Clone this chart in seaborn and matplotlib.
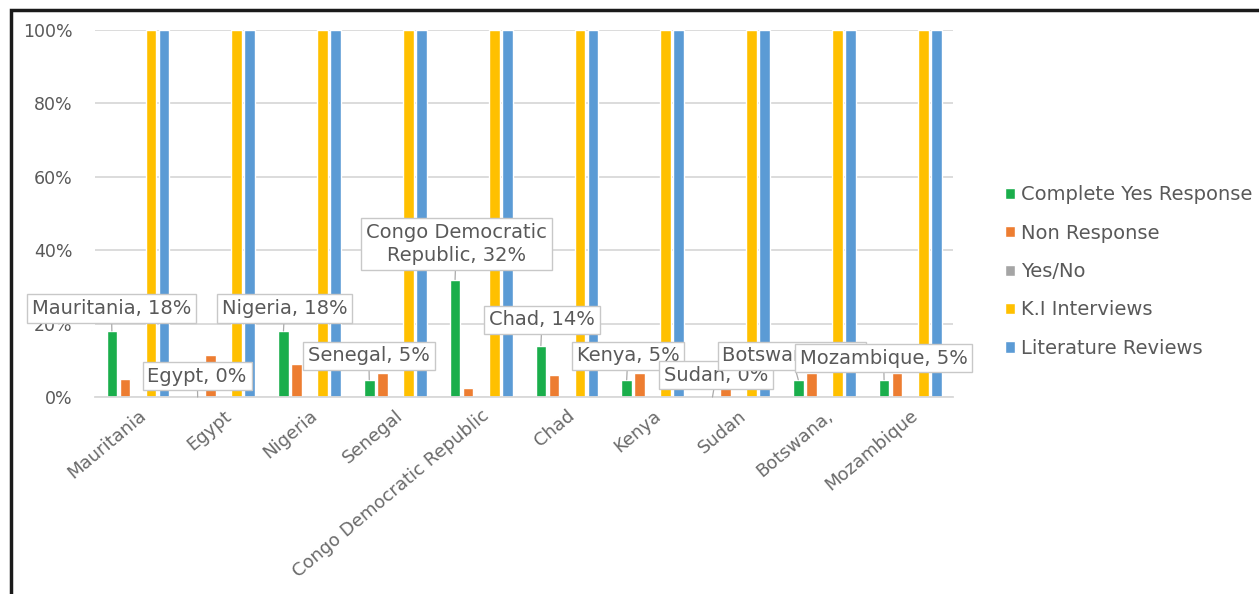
import matplotlib.pyplot as plt
import matplotlib.patches as mpatches
from matplotlib.ticker import PercentFormatter
import numpy as np
import pandas as pd
import seaborn as sns

# data
countries = ['Mauritania', 'Egypt', 'Nigeria', 'Senegal', 'Congo Democratic Republic',
             'Chad', 'Kenya', 'Sudan', 'Botswana,', 'Mozambique']
series = ['Complete Yes Response', 'Non Response', 'Yes/No', 'K.I Interviews', 'Literature Reviews']
complete_yes = [0.18, 0.0, 0.18, 0.047, 0.32, 0.14, 0.047, 0.0, 0.047, 0.047]
non_response = [0.05, 0.115, 0.09, 0.065, 0.025, 0.06, 0.065, 0.065, 0.065, 0.065]
yes_no = [0, 0, 0, 0, 0, 0, 0, 0, 0, 0]
ki_interviews = [1, 1, 1, 1, 1, 1, 1, 1, 1, 1]
lit_reviews = [1, 1, 1, 1, 1, 1, 1, 1, 1, 1]
label_names = ['Mauritania', 'Egypt', 'Nigeria', 'Senegal', 'Congo Democratic\nRepublic',
               'Chad', 'Kenya', 'Sudan', 'Botswana', 'Mozambique']

# layout: where the callout boxes sit (data coords)
label_pos = [(-0.31, 0.242), (0.69, 0.057), (1.71, 0.242), (2.69, 0.112), (3.71, 0.417),
             (4.71, 0.21), (5.71, 0.112), (6.74, 0.06), (7.62, 0.112), (8.69, 0.106)]

colors = ['#1AAE4B', '#ED7D31', '#A5A5A5', '#FFC000', '#5B9BD5']
txt = '#595959'

wide = pd.DataFrame({'Country': countries,
                     series[0]: complete_yes,
                     series[1]: non_response,
                     series[2]: yes_no,
                     series[3]: ki_interviews,
                     series[4]: lit_reviews})
df = wide.melt(id_vars='Country', var_name='Series', value_name='Value')

sns.set_theme(style='white')
plt.rcParams['font.family'] = ['DejaVu Sans']

fig = plt.figure(figsize=(12.59, 5.94), dpi=100)
ax = fig.add_axes([0.0755, 0.3316, 0.6815, 0.618])

sns.barplot(data=df, x='Country', y='Value', hue='Series', hue_order=series,
            palette=colors, width=0.76, gap=0.18, saturation=1, ax=ax)

ax.set_ylim(0, 1)
ax.set_xlim(-0.5, 9.5)
ax.set_yticks(np.arange(0, 1.01, 0.2))
ax.yaxis.set_major_formatter(PercentFormatter(1.0, decimals=0))
ax.yaxis.grid(True, color='#D9D9D9', lw=1.3)
ax.set_axisbelow(True)
for s in ['top', 'left', 'right']:
    ax.spines[s].set_visible(False)
ax.spines['bottom'].set_color('#D9D9D9')
ax.spines['bottom'].set_linewidth(1.3)
ax.set_xlabel('')
ax.set_ylabel('')
ax.tick_params(axis='y', length=0, pad=16, labelsize=12.5, labelcolor=txt)
ax.tick_params(axis='x', length=0, pad=7, labelsize=13, labelcolor='#6A6A6A')
ax.set_xticks(range(len(countries)))
ax.set_xticklabels(countries, rotation=40, ha='right', rotation_mode='anchor')

# callout labels for the green series
for bar, name, (lx, ly) in zip(ax.containers[0], label_names, label_pos):
    x = bar.get_x() + bar.get_width() / 2
    h = bar.get_height()
    ax.annotate(f'{name}, {h:.0%}', xy=(x, h), xytext=(lx, ly), textcoords='data',
                ha='center', va='center', fontsize=14, color=txt, linespacing=1.3,
                bbox=dict(boxstyle='square,pad=0.25', fc='white', ec='#C8C8C8', lw=1),
                arrowprops=dict(arrowstyle='-', color='#AAAAAA', lw=0.9,
                                shrinkA=0, shrinkB=0),
                annotation_clip=False, zorder=5)

sns.move_legend(ax, 'upper left', bbox_to_anchor=(1.04, 0.625), frameon=False,
                title=None, fontsize=14, handlelength=0.5, handleheight=0.5,
                handletextpad=0.35, labelspacing=1.0)
for t in ax.get_legend().get_texts():
    t.set_color(txt)

# frame of the cropped page
fig.add_artist(mpatches.Rectangle((0.0085, -0.1), 1.2, 1.083, transform=fig.transFigure,
                                  fill=False, ec='#1A1A1A', lw=2.5))

fig.savefig('out.png', dpi=100, facecolor='white')
